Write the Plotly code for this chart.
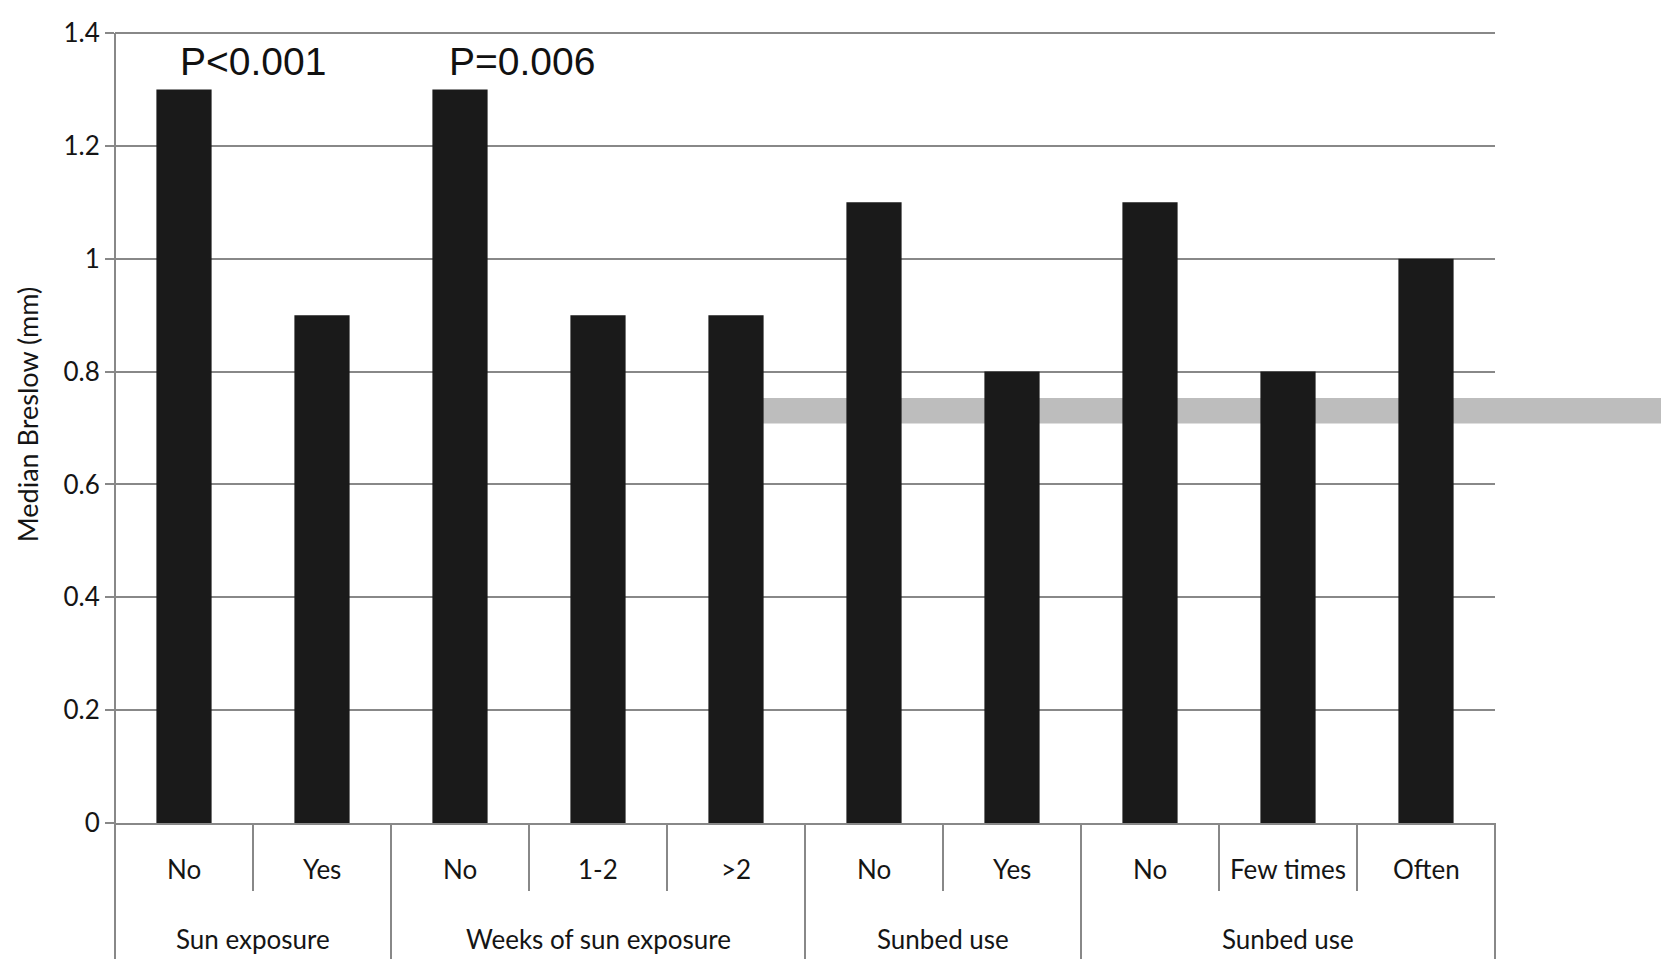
import plotly.graph_objects as go

groups = ["Sun exposure", "Weeks of sun exposure", "Sunbed use", "Sunbed use"]
group_sizes = [2, 3, 2, 3]
categories = ["No", "Yes", "No", "1-2", ">2", "No", "Yes", "No", "Few times", "Often"]
values = [1.3, 0.9, 1.3, 0.9, 0.9, 1.1, 0.8, 1.1, 0.8, 1.0]
p_labels = ["P<0.001", "P=0.006"]
p_x = [0.5, 2.45]
p_y = 1.35
band_low, band_high = 0.708, 0.753
y_ticks = [0, 0.2, 0.4, 0.6, 0.8, 1, 1.2, 1.4]

# page body has an 8px margin; size the figure to fill the window exactly
W, H = 1653, 951
L, R, T, B = 107, 166, 25, 136
plot_h = H - T - B
plot_w = W - L - R
YMAX = 1.4
n = len(categories)
xs = list(range(n))

def py(pix_below):
    # pixel distance below the x axis -> paper coordinate
    return -pix_below / plot_h

def px(xd):
    return (xd + 0.5) / n

GRAY = "#888888"
FONT = "Lato, Open Sans, sans-serif"
TXT = "#151515"

fig = go.Figure()
fig.add_trace(go.Bar(x=xs, y=values, marker=dict(color="#1a1a1a", line=dict(width=0)),
                     width=0.4, showlegend=False, hoverinfo="skip"))

shapes = []
# grey reference band behind bars, running to the page edge
shapes.append(dict(type="rect", xref="paper", yref="paper", layer="below",
                   x0=px(4.15), x1=1.3, y0=band_low / YMAX, y1=band_high / YMAX,
                   fillcolor="#bdbdbd", line=dict(width=0)))
# top gridline at 1.4
shapes.append(dict(type="line", xref="paper", yref="paper", layer="below",
                   x0=0, x1=1, y0=1, y1=1, line=dict(color=GRAY, width=2)))

annotations = []
# inner category labels and dividers
for i, c in enumerate(categories):
    annotations.append(dict(x=i, xref="x", y=py(46), yref="paper", text=c, showarrow=False,
                            font=dict(family=FONT, size=26, color=TXT),
                            xanchor="center", yanchor="middle"))
start = 0
bounds = [0]
for s in group_sizes:
    start += s
    bounds.append(start)
group_bounds = set(bounds)
for b in range(n + 1):
    y1 = py(136) if b in group_bounds else py(68)
    shapes.append(dict(type="line", xref="paper", yref="paper", x0=px(b - 0.5), x1=px(b - 0.5),
                       y0=1 if b == 0 else 0, y1=y1, line=dict(color=GRAY, width=2), layer="above"))
for g, s0, s1 in zip(groups, bounds[:-1], bounds[1:]):
    annotations.append(dict(x=(s0 + s1 - 1) / 2, xref="x", y=py(116), yref="paper", text=g,
                            showarrow=False, font=dict(family=FONT, size=26, color=TXT),
                            xanchor="center", yanchor="middle"))
# p-values
for t, x in zip(p_labels, p_x):
    annotations.append(dict(x=x, xref="x", y=p_y, yref="y", text=t, showarrow=False,
                            font=dict(family="Liberation Sans, Arial, sans-serif", size=39, color="#111111"),
                            xanchor="center", yanchor="middle"))
# y-axis title
annotations.append(dict(x=-(L - 19) / plot_w, xref="paper", y=0.516, yref="paper",
                        text="Median Breslow (mm)", textangle=-90, showarrow=False,
                        font=dict(family=FONT, size=27, color=TXT),
                        xanchor="center", yanchor="middle"))

fig.update_layout(
    width=W, height=H,
    margin=dict(l=L, r=R, t=T, b=B, pad=0, autoexpand=False),
    paper_bgcolor="white", plot_bgcolor="white",
    bargap=0.6,
    xaxis=dict(range=[-0.5, n - 0.5], showticklabels=False, showgrid=False, zeroline=False,
               showline=True, linecolor=GRAY, linewidth=2, ticks="", automargin=False),
    yaxis=dict(range=[0, YMAX], tickvals=y_ticks, ticktext=[f"{v:g}" for v in y_ticks],
               showgrid=True, gridcolor=GRAY, gridwidth=2, zeroline=False, automargin=False,
               showline=False, ticks="outside", ticklen=9, tickcolor=GRAY, tickwidth=2,
               tickfont=dict(family=FONT, size=26, color=TXT)),
    shapes=shapes, annotations=annotations,
)

fig.write_html("out.html")
